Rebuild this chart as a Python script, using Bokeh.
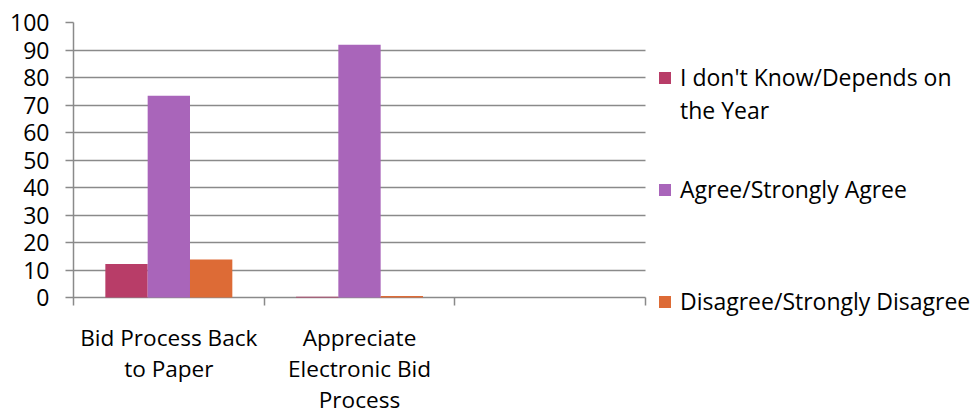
from bokeh.plotting import figure
from bokeh.models import (Range1d, FixedTicker, Legend, LegendItem, LinearAxis, Grid)
from bokeh.embed import file_html
from bokeh.resources import INLINE

categories = ["Bid Process Back\nto Paper", "Appreciate\nElectronic Bid\nProcess", ""]
series_names = ["I don't Know/Depends on\nthe Year", "Agree/Strongly Agree", "Disagree/Strongly Disagree"]
dont_know = [12.2, 0.3, 0.0]
agree = [73.4, 91.9, 0.0]
disagree = [13.8, 0.6, 0.0]
colors = ["#B83D68", "#A965BA", "#DD6B36"]
y_ticks = [0, 10, 20, 30, 40, 50, 60, 70, 80, 90, 100]

FONT = "Open Sans"
GRID = "#8a8a8a"
TXT = "#000000"
n_cat = len(categories)
TICK = 2.9  # tick length below the axis, in value units (8px)

# plot area spans the whole right side so the legend is not clipped;
# the value region is x 0..3, y 0..100
p = figure(frame_width=899, frame_height=302, output_backend="svg", toolbar_location=None,
           x_range=Range1d(0, n_cat * 899 / 572), y_range=Range1d(-9.8, 100),
           min_border_left=73, min_border_right=0, min_border_top=22, min_border_bottom=92,
           x_axis_type=None)
p.outline_line_color = None
p.background_fill_color = "white"
p.border_fill_color = "white"

bar_w = 0.222
series = [dont_know, agree, disagree]
renderers = []
for i, vals in enumerate(series):
    xs = [k + 0.5 + (i - 1) * bar_w for k in range(n_cat)]
    r = p.vbar(x=xs, top=vals, width=bar_w, bottom=0, fill_color=colors[i],
               line_color=None)
    renderers.append(r)
# transparent proxy used for the second line of the first legend entry
proxy = p.vbar(x=[k + 0.5 - bar_w for k in range(n_cat)], top=dont_know, width=bar_w,
               fill_alpha=0, line_alpha=0)

# y axis
p.yaxis.ticker = FixedTicker(ticks=y_ticks)
p.yaxis.bounds = (-TICK, 100)
p.yaxis.axis_line_color = GRID
p.yaxis.axis_line_width = 1.5
p.yaxis.major_tick_line_color = GRID
p.yaxis.major_tick_line_width = 1.5
p.yaxis.major_tick_out = 8
p.yaxis.major_tick_in = 0
p.yaxis.minor_tick_line_color = None
p.yaxis.major_label_text_font = FONT
p.yaxis.major_label_text_font_size = "23px"
p.yaxis.major_label_text_color = TXT
p.yaxis.major_label_standoff = 16

p.ygrid.ticker = FixedTicker(ticks=y_ticks)
p.ygrid.grid_line_color = GRID
p.ygrid.grid_line_width = 1.5
p.ygrid.cross_bounds = (0, n_cat)

# category separator ticks below the axis
xg = Grid(dimension=0, ticker=FixedTicker(ticks=list(range(n_cat + 1))),
          grid_line_color=GRID, grid_line_width=1.5, cross_bounds=(-TICK, 0))
p.add_layout(xg)

# category labels
xa = LinearAxis(ticker=FixedTicker(ticks=[k + 0.5 for k in range(n_cat)]))
xa.major_label_overrides = {k + 0.5: categories[k] for k in range(n_cat)}
xa.axis_line_color = None
xa.major_tick_line_color = None
xa.minor_tick_line_color = None
xa.major_label_text_font = FONT
xa.major_label_text_font_size = "22.6px"
xa.major_label_text_color = TXT
xa.major_label_text_line_height = 1.0
xa.major_label_standoff = -9
p.add_layout(xa, "below")

# legend entries, each placed on its own
first_lines = series_names[0].split("\n")
legend_specs = [
    (first_lines[0], renderers[0], 231),
    (first_lines[1], proxy, 198),
    (series_names[1], renderers[1], 119),
    (series_names[2], renderers[2], 7),
]
for label, rend, vy in legend_specs:
    lg = Legend(items=[LegendItem(label=label, renderers=[rend])], location=(584, vy),
                glyph_width=15, glyph_height=15, padding=0, margin=0, label_standoff=8,
                border_line_color=None, background_fill_alpha=0,
                label_text_font=FONT, label_text_font_size="23px", label_text_color=TXT,
                label_height=26)
    p.add_layout(lg, "center")

open("out.html", "w").write(file_html(p, INLINE))
